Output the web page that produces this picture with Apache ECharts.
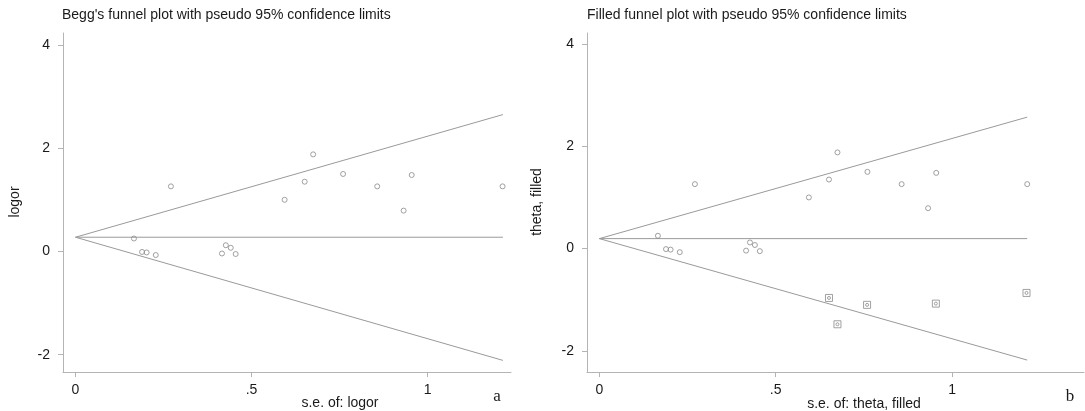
<!DOCTYPE html>
<html>
<head>
<meta charset="utf-8">
<script src="https://cdn.jsdelivr.net/npm/echarts@6/dist/echarts.min.js"></script>
<style>
html,body{margin:0;padding:0;background:#fff;}
#chart{width:1085px;height:411px;}
</style>
</head>
<body>
<div id="chart"></div>
<script>
// ---- data ----
const studySE = [0.166,0.189,0.202,0.228,0.271,0.416,0.427,0.441,0.455,0.594,0.651,0.675,0.760,0.857,0.932,0.955,1.213];
const studyLogor = [0.25,-0.01,-0.02,-0.07,1.26,-0.04,0.12,0.07,-0.05,1.0,1.35,1.88,1.50,1.26,0.79,1.48,1.26];
const filledSE = [0.651,0.675,0.759,0.954,1.211];
const filledTheta = [-0.965,-1.48,-1.10,-1.076,-0.867];

const funnelSE_A = [0, 1.214];
const upper_A = [0.275, 2.65];
const lower_A = [0.275, -2.11];
const center_A = [0.275, 0.275];

const funnelSE_B = [0, 1.213];
const upper_B = [0.195, 2.57];
const lower_B = [0.195, -2.18];
const center_B = [0.195, 0.195];

const xTicks = [0, 0.5, 1];
const xTickLabels = ['0', '.5', '1'];
const yTicks = [-2, 0, 2, 4];
const yTickLabels = ['-2', '0', '2', '4'];

const titleA = "Begg's funnel plot with pseudo 95% confidence limits";
const titleB = "Filled funnel plot with pseudo 95% confidence limits";
const xNameA = "s.e. of: logor";
const xNameB = "s.e. of: theta, filled";
const yNameA = "logor";
const yNameB = "theta, filled";

// ---- helpers ----
const zip = (a, b) => a.map((v, i) => [v, b[i]]);
const FONT = '"Liberation Sans", Arial, sans-serif';
const AXIS_COLOR = '#b4b4b4';
const LINE_COLOR = '#9a9a9a';
const MARK_COLOR = '#8a8a8a';
const TEXT_COLOR = '#1a1a1a';

function xAxisDef(gi, min, max) {
  return {
    gridIndex: gi, type: 'value', min: min, max: max,
    axisLine: {show: true, onZero: false, lineStyle: {color: AXIS_COLOR, width: 1}},
    axisTick: {show: true, length: 5, customValues: xTicks, lineStyle: {color: AXIS_COLOR}},
    axisLabel: {show: true, customValues: xTicks, margin: 11, color: TEXT_COLOR, fontFamily: FONT, fontSize: 14,
      formatter: v => { const i = xTicks.findIndex(t => Math.abs(t - v) < 1e-9); return i >= 0 ? xTickLabels[i] : ''; }},
    splitLine: {show: false}
  };
}
function yAxisDef(gi, min, max) {
  return {
    gridIndex: gi, type: 'value', min: min, max: max,
    axisLine: {show: true, onZero: false, lineStyle: {color: AXIS_COLOR, width: 1}},
    axisTick: {show: true, length: 5, customValues: yTicks, lineStyle: {color: AXIS_COLOR}},
    axisLabel: {show: true, customValues: yTicks, margin: 13, color: TEXT_COLOR, fontFamily: FONT, fontSize: 14,
      formatter: v => { const i = yTicks.findIndex(t => Math.abs(t - v) < 1e-9); return i >= 0 ? yTickLabels[i] : ''; }},
    splitLine: {show: false}
  };
}
function lineSeries(gi, xs, ys) {
  return {type: 'line', xAxisIndex: gi, yAxisIndex: gi, data: zip(xs, ys), symbol: 'none',
    lineStyle: {color: LINE_COLOR, width: 1}, silent: true, z: 2};
}
function circleSeries(gi, xs, ys) {
  return {type: 'scatter', xAxisIndex: gi, yAxisIndex: gi, data: zip(xs, ys), symbol: 'circle', symbolSize: 5,
    itemStyle: {color: 'rgba(255,255,255,0)', borderColor: MARK_COLOR, borderWidth: 1}, silent: true, z: 3};
}

const chart = echarts.init(document.getElementById('chart'), null, {renderer: 'canvas'});
const option = {
  animation: false,
  backgroundColor: '#ffffff',
  title: [
    {text: titleA, left: 62, top: 8, padding: 0, textStyle: {fontFamily: FONT, fontSize: 14, fontWeight: 'normal', color: TEXT_COLOR}},
    {text: titleB, left: 587, top: 8, padding: 0, textStyle: {fontFamily: FONT, fontSize: 14, fontWeight: 'normal', color: TEXT_COLOR}}
  ],
  grid: [
    {left: 63, top: 33, width: 448, height: 339, containLabel: false},
    {left: 587, top: 33, width: 497, height: 339, containLabel: false}
  ],
  xAxis: [xAxisDef(0, -0.0355, 1.237), xAxisDef(1, -0.035, 1.374)],
  yAxis: [yAxisDef(0, -2.335, 4.23), yAxisDef(1, -2.413, 4.215)],
  series: [
    lineSeries(0, funnelSE_A, upper_A),
    lineSeries(0, funnelSE_A, lower_A),
    lineSeries(0, funnelSE_A, center_A),
    circleSeries(0, studySE, studyLogor),
    lineSeries(1, funnelSE_B, upper_B),
    lineSeries(1, funnelSE_B, lower_B),
    lineSeries(1, funnelSE_B, center_B),
    circleSeries(1, studySE, studyLogor),
    {type: 'scatter', xAxisIndex: 1, yAxisIndex: 1, data: zip(filledSE, filledTheta), symbol: 'rect', symbolSize: 7,
      itemStyle: {color: 'rgba(255,255,255,0)', borderColor: MARK_COLOR, borderWidth: 1}, silent: true, z: 3},
    {type: 'scatter', xAxisIndex: 1, yAxisIndex: 1, data: zip(filledSE, filledTheta), symbol: 'circle', symbolSize: 3,
      itemStyle: {color: 'rgba(255,255,255,0)', borderColor: MARK_COLOR, borderWidth: 1}, silent: true, z: 3}
  ],
  graphic: [
    {type: 'text', x: 340, y: 403, style: {text: xNameA, align: 'center', verticalAlign: 'middle', font: '14px ' + FONT, fill: TEXT_COLOR}},
    {type: 'text', x: 864, y: 404, style: {text: xNameB, align: 'center', verticalAlign: 'middle', font: '14px ' + FONT, fill: TEXT_COLOR}},
    {type: 'text', x: 15, y: 202, rotation: Math.PI / 2, style: {text: yNameA, align: 'center', verticalAlign: 'middle', font: '14px ' + FONT, fill: TEXT_COLOR}},
    {type: 'text', x: 537, y: 202, rotation: Math.PI / 2, style: {text: yNameB, align: 'center', verticalAlign: 'middle', font: '14px ' + FONT, fill: TEXT_COLOR}},
    {type: 'text', x: 497, y: 397, style: {text: 'a', align: 'center', verticalAlign: 'middle', font: '17px "Liberation Serif", "Times New Roman", serif', fill: TEXT_COLOR}},
    {type: 'text', x: 1070, y: 397, style: {text: 'b', align: 'center', verticalAlign: 'middle', font: '17px "Liberation Serif", "Times New Roman", serif', fill: TEXT_COLOR}}
  ]
};
chart.setOption(option);
</script>
</body>
</html>
